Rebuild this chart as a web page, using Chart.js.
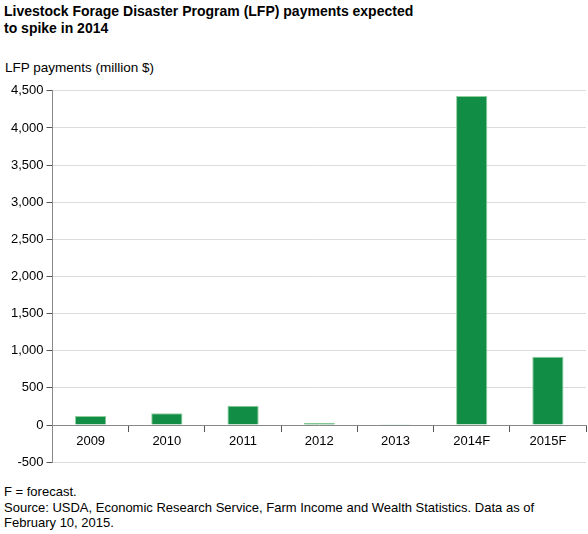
<!DOCTYPE html>
<html>
<head>
<meta charset="utf-8">
<script src="https://cdn.jsdelivr.net/npm/chart.js@4"></script>
<style>
  body { margin: 0; background: #fff; font-family: 'Liberation Sans', Arial, sans-serif; color: #000; }
  #title { position: absolute; left: 4px; top: 3px; font-size: 14px; font-weight: bold; line-height: 17px; }
  #ytitle { position: absolute; left: 5px; top: 60px; font-size: 13.5px; }
  #wrap { position: absolute; left: 0; top: 80px; width: 588px; height: 393px; }
  #notes { position: absolute; left: 4px; top: 484px; font-size: 13px; line-height: 15.5px; }
</style>
</head>
<body>
<div id="title">Livestock Forage Disaster Program (LFP) payments expected<br>to spike in 2014</div>
<div id="ytitle">LFP payments (million $)</div>
<div id="wrap"><canvas id="c"></canvas></div>
<div id="notes">F = forecast.<br>Source: USDA, Economic Research Service, Farm Income and Wealth Statistics. Data as of<br>February 10, 2015.</div>
<script>
const categories = ['2009', '2010', '2011', '2012', '2013', '2014F', '2015F'];
const payments = [122, 159, 259, 31, 3, 4430, 921];

new Chart(document.getElementById('c'), {
    type: 'bar',
    data: {
        labels: categories,
        datasets: [{
            data: payments,
            backgroundColor: '#118d45',
            borderColor: '#8fcf9f',
            borderWidth: 1,
            barPercentage: 0.41,
            categoryPercentage: 1,
        }],
    },
    options: {
        responsive: true,
        maintainAspectRatio: false,
        animation: false,
        layout: { padding: { top: 8, right: 2, left: 8, bottom: 0 } },
        plugins: { legend: { display: false }, tooltip: { enabled: false } },
        scales: {
            x: {
                position: { y: 0 },
                grid: { display: true, drawOnChartArea: false, offset: true, tickLength: 6, color: '#555' },
                border: { color: '#888' },
                ticks: { color: '#000', font: { size: 13, family: "'Liberation Sans', Arial, sans-serif" }, padding: 3 },
            },
            y: {
                min: -500,
                max: 4500,
                ticks: {
                    stepSize: 500,
                    color: '#000',
                    font: { size: 13, family: "'Liberation Sans', Arial, sans-serif" },
                    callback: v => v.toLocaleString('en-US'),
                },
                grid: { color: '#dcdcdc', tickLength: 6, tickColor: '#555' },
                border: { color: '#888' },
            },
        },
    },
});
</script>
</body>
</html>
